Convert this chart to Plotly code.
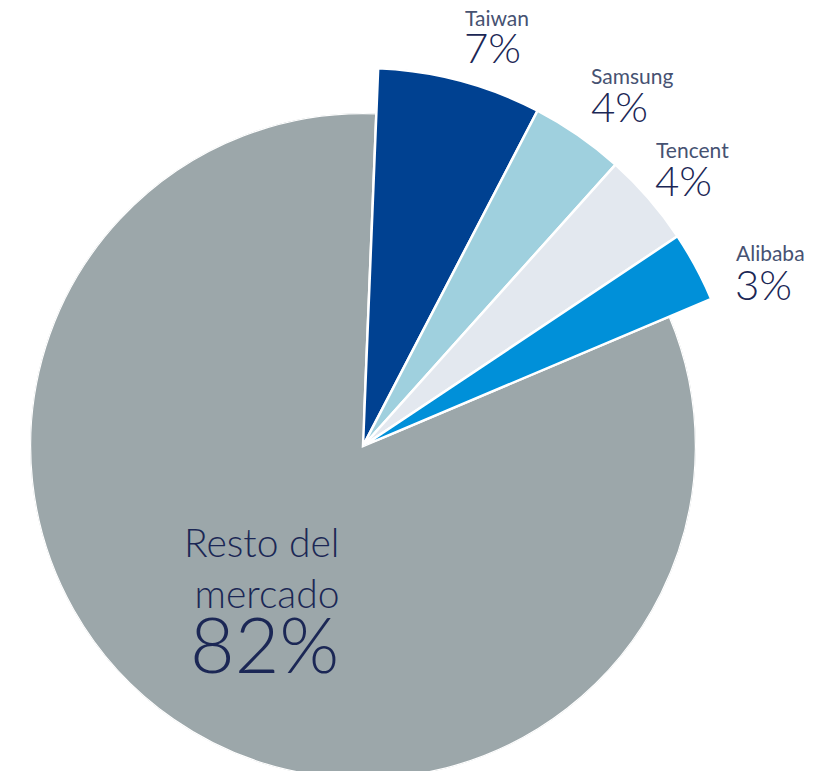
import numpy as np
import plotly.graph_objects as go

# data
labels = ["Taiwan", "Samsung", "Tencent", "Alibaba", "Resto del mercado"]
shares = [7, 4, 4, 3, 82]
colors = ["#004191", "#9fd0de", "#e3e8ef", "#0090d9", "#9ca7aa"]

# figure geometry in px (the page adds an 8px body margin)
W, H = 828, 771
CX, CY = 355, 438          # pie centre
R_MAIN = 333               # radius of the big slice
R_OUT = 378                # radius of the highlighted slices
R_FRAME2 = 382             # frame of the sector subplot holding the small slices
SECTOR = [18, 90]          # screen angles covered by the small slices
START_DEG = 2.3            # first slice starts a bit right of 12 o'clock

# label anchors (left x, middle y of name, middle y of percentage)
NAME_POS = [(455, 10), (581, 67), (646, 141), (726, 244)]
PCT_POS = [(454, 39), (581, 98), (645, 172), (725, 276)]
MAIN_RIGHT = 333
MAIN_NAME_Y = 559
MAIN_PCT_Y = 635

TEXT_DARK = "#1b2755"
TEXT_NAME = "#465272"
FONT = "Lato, Open Sans, sans-serif"

# slice angles from the shares
total = sum(shares)
widths = np.array(shares) / total * 360
centers = np.cumsum(widths) - widths / 2
n_small = len(labels) - 1

angular = dict(rotation=90 - START_DEG, direction="clockwise", visible=False)

fig = go.Figure()

# big slice in a full polar frame
fig.add_trace(go.Barpolar(
    r=[1.0],
    theta=[centers[-1]],
    width=[widths[-1]],
    marker=dict(color=colors[-1], line=dict(color="white", width=2.5)),
    hovertext=labels[-1:],
    showlegend=False,
    subplot="polar",
))

# highlighted slices in a sector frame, so they can reach further out
fig.add_trace(go.Barpolar(
    r=[1.0] * n_small,
    theta=centers[:n_small],
    width=widths[:n_small],
    marker=dict(color=colors[:n_small], line=dict(color="white", width=2.5)),
    hovertext=labels[:n_small],
    showlegend=False,
    subplot="polar2",
))

for i in range(n_small):
    fig.add_annotation(
        x=NAME_POS[i][0] / W, y=1 - NAME_POS[i][1] / H, xref="paper", yref="paper",
        xanchor="left", yanchor="middle", text=labels[i], showarrow=False,
        font=dict(family=FONT, size=21, color=TEXT_NAME, weight=400),
    )
    fig.add_annotation(
        x=PCT_POS[i][0] / W, y=1 - PCT_POS[i][1] / H, xref="paper", yref="paper",
        xanchor="left", yanchor="middle", text=f"{shares[i]}%", showarrow=False,
        font=dict(family=FONT, size=42, color=TEXT_DARK, weight=300),
    )

fig.add_annotation(
    x=MAIN_RIGHT / W, y=1 - MAIN_NAME_Y / H, xref="paper", yref="paper",
    xanchor="right", yanchor="middle", align="right",
    text="Resto del<br>mercado", showarrow=False,
    font=dict(family=FONT, size=39, color=TEXT_DARK, weight=300),
)
fig.add_annotation(
    x=MAIN_RIGHT / W, y=1 - MAIN_PCT_Y / H, xref="paper", yref="paper",
    xanchor="right", yanchor="middle",
    text=f"{shares[-1]}%", showarrow=False,
    font=dict(family=FONT, size=77, color=TEXT_DARK, weight=300),
)

cos0 = np.cos(np.radians(SECTOR[0]))
fig.update_layout(
    width=W, height=H,
    margin=dict(l=0, r=0, t=0, b=0),
    paper_bgcolor="white",
    polar=dict(
        domain=dict(x=[(CX - R_MAIN) / W, (CX + R_MAIN) / W],
                    y=[(H - CY - R_MAIN) / H, (H - CY + R_MAIN) / H]),
        bgcolor="rgba(0,0,0,0)",
        radialaxis=dict(range=[0, 1], visible=False),
        angularaxis=angular,
    ),
    polar2=dict(
        sector=SECTOR,
        domain=dict(x=[CX / W, (CX + R_FRAME2 * cos0) / W],
                    y=[(H - CY) / H, (H - CY + R_FRAME2) / H]),
        bgcolor="rgba(0,0,0,0)",
        radialaxis=dict(range=[0, R_FRAME2 / R_OUT], visible=False),
        angularaxis=angular,
    ),
)

fig.write_html("out.html")
